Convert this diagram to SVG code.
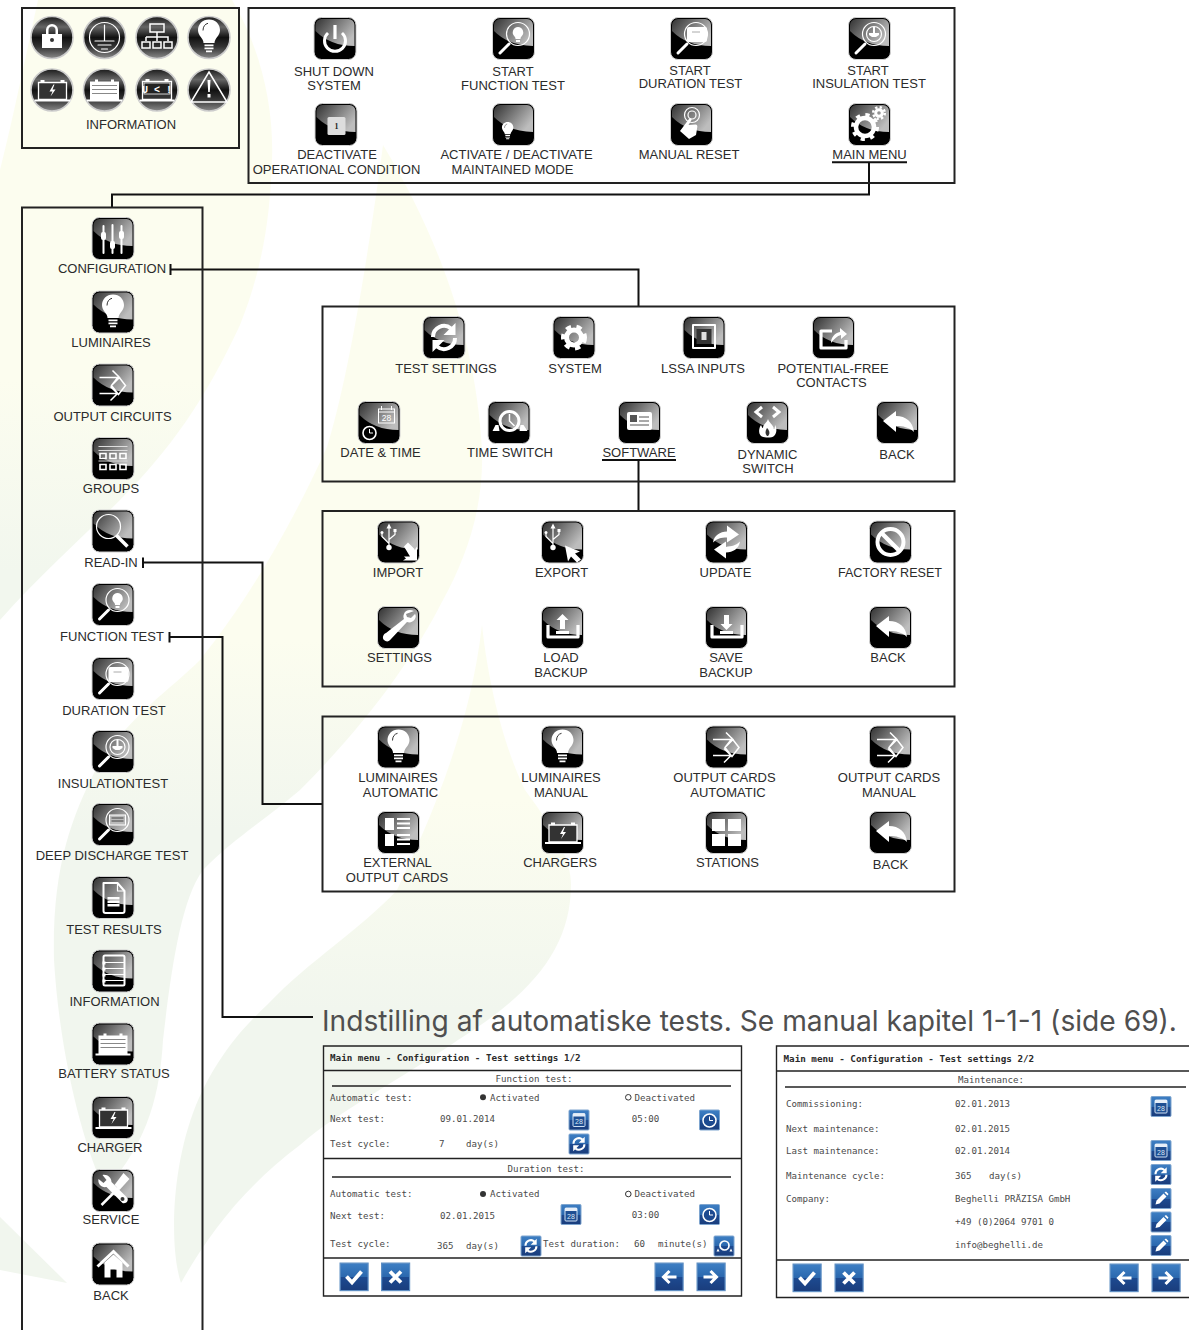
<svg xmlns="http://www.w3.org/2000/svg" width="1189" height="1330" viewBox="0 0 1189 1330">
<style>
.l{font:13px "Liberation Sans",Arial,sans-serif;text-anchor:middle;fill:#2b2b2b}
.m{font:9.15px "DejaVu Sans Mono","Liberation Mono",monospace;fill:#4a4a4a}
.c{text-anchor:middle}
.t{font:bold 9.25px "DejaVu Sans Mono","Liberation Mono",monospace;fill:#2a2a2a}
.p{fill:none;stroke:#222;stroke-width:2}
.s{fill:none;stroke:#222;stroke-width:1.4}
.cn{fill:none;stroke:#111;stroke-width:2}
.w{fill:#fff}
.ws{fill:none;stroke:#fff;stroke-width:2;stroke-linecap:round;stroke-linejoin:round}
.ws1{fill:none;stroke:#fff;stroke-width:1.2;stroke-linecap:round;stroke-linejoin:round}
.ws3{fill:none;stroke:#fff;stroke-width:3.2;stroke-linejoin:round}
</style>
<defs>
<linearGradient id="fa" gradientUnits="userSpaceOnUse" x1="0" y1="380" x2="0" y2="570"><stop offset="0" stop-color="#fcfdef"/><stop offset="1" stop-color="#f2f7ee"/></linearGradient>
<linearGradient id="fb" gradientUnits="userSpaceOnUse" x1="0" y1="640" x2="0" y2="830"><stop offset="0" stop-color="#fcfdef"/><stop offset="1" stop-color="#f1f6ee"/></linearGradient>
<linearGradient id="fd" gradientUnits="userSpaceOnUse" x1="0" y1="800" x2="0" y2="1010"><stop offset="0" stop-color="#fcfdef"/><stop offset="1" stop-color="#f1f6ee"/></linearGradient>
<linearGradient id="gl" x1="0" y1="0" x2="1" y2=".55"><stop offset="0" stop-color="#333"/><stop offset="1" stop-color="#bdbdbd"/></linearGradient>
<linearGradient id="rd" x1="0" y1="0" x2="0" y2="1"><stop offset="0" stop-color="#1a1a1a"/><stop offset=".25" stop-color="#666"/><stop offset=".5" stop-color="#111"/><stop offset=".72" stop-color="#333"/><stop offset="1" stop-color="#8a8a8a"/></linearGradient>
<linearGradient id="bl" x1="0" y1="0" x2="0" y2="1"><stop offset="0" stop-color="#3e7fc4"/><stop offset=".5" stop-color="#2b68ae"/><stop offset=".52" stop-color="#1d4a90"/><stop offset="1" stop-color="#1a3d7c"/></linearGradient>
<g id="btn"><rect x=".5" y=".5" width="42" height="42" rx="7.5" fill="#000" stroke="#d0d0d0"/><path d="M2 14Q17 29 41 29V8a6 6 0 0 0-6-6H8a6 6 0 0 0-6 6z" fill="url(#gl)"/></g>
<g id="bulbg"><path class="w" d="M21.5 4c-6.500 0-11 4.800-11 10.500 0 4.500 3 7 4.500 9.500 .7 1.200 1 2.400 1 3.500h11c0-1.100.3-2.300 1-3.500 1.500-2.500 4.500-5 4.500-9.500C32.500 8.800 28 4 21.500 4z"/><path d="M15.500 15c0-4 2-6.500 5-7.200" fill="none" stroke="#333" stroke-width="1"/><path class="w" d="M17 29h9v1.800h-9zM17 32h9v1.800h-9zM18.500 35h6v1.800h-6z"/></g>
<g id="magh"><path d="M8 36L17 27" fill="none" stroke="#fff" stroke-width="3" stroke-linecap="round"/><circle cx="26" cy="17" r="11.500" class="ws1"/></g>
<g id="i-power"><use href="#btn"/><path d="M14.500 16a10.500 10.500 0 1 0 14 0" fill="none" stroke="#fff" stroke-width="3"/><path d="M21.500 8v14" class="ws3"/></g>
<g id="i-magbulb"><use href="#btn"/><use href="#magh"/><path class="w" d="M26 10a5.500 5.500 0 0 0-3.500 9.500c.8.800 1 1.500 1 2.500h5c0-1 .2-1.700 1-2.500A5.500 5.500 0 0 0 26 10z"/><rect class="w" x="24" y="23" width="4" height="2"/></g>
<g id="i-magbat"><use href="#btn"/><use href="#magh"/><rect class="w" x="17" y="10" width="20" height="15" rx="2"/><path d="M22 15h8" stroke="#aaa" fill="none"/></g>
<g id="i-maggnd"><use href="#btn"/><use href="#magh"/><circle cx="26" cy="17" r="7.500" class="ws1"/><path class="w" d="M25 10h2v6h4v2l-3 2h-4l-3-2v-2h4z"/></g>
<g id="i-magdeep"><use href="#btn"/><use href="#magh"/><rect x="18" y="12" width="16" height="10" fill="#bbb" stroke="#fff"/><path d="M20 15h12M20 18h12" stroke="#444" fill="none"/></g>
<g id="i-mag"><use href="#btn"/><circle cx="17" cy="17" r="12" class="ws1"/><path d="M25 26L36 37" fill="none" stroke="#fff" stroke-width="3.500"/></g>
<g id="i-one"><use href="#btn"/><rect x="13" y="14" width="18" height="18" rx="1.500" fill="#ddd"/><text x="22" y="26" font-family="Liberation Serif,serif" font-size="8" font-weight="bold" text-anchor="middle" fill="#222">1</text></g>
<g id="i-bulbsm"><use href="#btn"/><use href="#bulbg" transform="translate(4.500,17) scale(.52)"/></g>
<g id="i-touch"><use href="#btn"/><circle cx="22" cy="12" r="7.500" class="ws1"/><circle cx="22" cy="12" r="4" class="ws1"/><path class="w" d="M10 28l9-12c1-1.500 3.200-.5 2.500 1l-3 5 7-.5c1.500 0 2 1 1.800 2.500L26 32l-7 4z"/></g>
<g id="i-gears"><use href="#btn"/><circle cx="17" cy="24" r="9" fill="none" stroke="#fff" stroke-width="4.500"/><circle cx="17" cy="24" r="12.300" fill="none" stroke="#fff" stroke-width="3.500" stroke-dasharray="4.200 5.460"/><circle cx="31" cy="10" r="3.300" fill="none" stroke="#fff" stroke-width="3"/><circle cx="31" cy="10" r="5.800" fill="none" stroke="#fff" stroke-width="2.500" stroke-dasharray="2.300 2.250"/></g>
<g id="i-sliders"><use href="#btn"/><path d="M12 9v27M21 8v28M30 9v27" class="ws"/><rect class="w" x="9.500" y="15" width="5" height="8" rx="2"/><rect class="w" x="18.500" y="24" width="5" height="8" rx="2"/><rect class="w" x="27.500" y="14" width="5" height="8" rx="2"/></g>
<g id="i-out"><use href="#btn"/><path d="M8 14H28M21 7l7 7-7 7M8 30H26M19 23l7 7-7 7M27 13l7 9-7 9-7-9z" fill="none" stroke="#fff" stroke-width="1.500"/></g>
<g id="i-groups"><use href="#btn"/><path d="M7 9.500h29M7 13.500h29M7 24h29" stroke="#ddd" fill="none"/><path d="M8.500 16.500h6v5h-6zM18.500 16.500h6v5h-6zM28.500 16.500h6v5h-6zM8.500 27.500h6v5h-6zM18.500 27.500h6v5h-6zM28.500 27.500h6v5h-6z" fill="none" stroke="#fff" stroke-width="1.600"/></g>
<g id="i-doc"><use href="#btn"/><path class="ws" d="M12 7h14l7 8v20a2 2 0 0 1-2 2H14a2 2 0 0 1-2-2z"/><path d="M26 7v8h7" class="ws1"/><path class="w" d="M16 21h12v2.500H16zM16 24.500h12V27H16zM16 28h12v2.500H16z"/></g>
<g id="i-list"><use href="#btn"/><rect x="12" y="6" width="21" height="30" rx="1.500" class="ws"/><path d="M13 13h19M13 19h19M13 25h19M13 31h19" class="ws1"/><path class="w" d="M11 12h3v3h-3zM11 18h3v3h-3zM11 24h3v3h-3zM11 30h3v3h-3z"/></g>
<g id="i-bat"><use href="#btn"/><path class="w" d="M7 13h5v-2h3v2h13v-2h3v2h5v18h3v2H4v-2h3z"/><path d="M9 17h25M9 21h25M9 25h25" stroke="#888" fill="none"/></g>
<g id="i-chg"><use href="#btn"/><path d="M8 14h28v17H8z" fill="#333" stroke="#fff" stroke-width="1.300"/><path class="w" d="M10 11.500h4V14h-4zM30 11.500h4V14h-4zM4 31h36v2H4zM23 16l-4 7h3l-2 5 5-7h-3l2-5z"/></g>
<g id="i-tools"><use href="#btn"/><path d="M10 36L27 19" stroke="#fff" stroke-width="2.500" fill="none"/><path class="w" d="M32 4l6 6-10 11-5-5z"/><path class="w" d="M11 6c5-1 9 3 9 7l16 16c1 3-1 6-5 5L15 18c-5 1-9-3-8-8l5 4 3-3z"/><circle cx="31" cy="30" r="2" fill="#333"/></g>
<g id="i-home"><use href="#btn"/><path d="M6 24L22 9l15 15" fill="none" stroke="#fff" stroke-width="3"/><path class="w" d="M13 20l9-8 9 8v15H25V27h-6v8h-6z"/></g>
<g id="refg"><path d="M10.500 21a11 11 0 0 1 18-8.500M32.500 22a11 11 0 0 1-18 8.500" fill="none" stroke="#fff" stroke-width="4"/><path class="w" d="M33 7v12H21zM10 36V24h12z"/></g>
<g id="i-ref"><use href="#btn"/><use href="#refg"/></g>
<g id="i-gear"><use href="#btn"/><circle cx="21.500" cy="21.500" r="7.500" fill="none" stroke="#fff" stroke-width="5"/><circle cx="21.500" cy="21.500" r="11" fill="none" stroke="#fff" stroke-width="4" stroke-dasharray="5.300 5.500"/></g>
<g id="i-lssa"><use href="#btn"/><rect x="10.500" y="9" width="22" height="23" class="ws" stroke-linecap="square"/><rect x="14" y="13" width="15" height="15" fill="#333"/><rect class="w" x="19" y="16" width="5" height="8" opacity=".85"/></g>
<g id="i-cont"><use href="#btn"/><path d="M20 15H9v17h25V24" class="ws3"/><path class="w" d="M19 27c0-6 4-10 9-11v-4l7 6-6 5v-4c-4 1-7 4-10 8z"/></g>
<g id="i-dt"><use href="#btn"/><rect x="21" y="8" width="16" height="14" fill="none" stroke="#fff"/><path d="M21 11h16M24 5v4M34 5v4" stroke="#fff" fill="none"/><text x="29" y="20" font-family="Liberation Sans,sans-serif" font-size="8.500" text-anchor="middle" fill="#fff">28</text><circle cx="12" cy="32" r="6.500" fill="#000" stroke="#fff" stroke-width="1.600"/><path d="M12 28v4h3.500" stroke="#fff" fill="none"/></g>
<g id="i-ts"><use href="#btn"/><circle cx="22" cy="20" r="9.500" fill="none" stroke="#fff" stroke-width="3"/><path d="M22 13v7l5 5" stroke="#fff" stroke-width="1.500" fill="none"/><path class="w" d="M5 30l3-6h3l1 6zM32 30l1-6h3l4 6z"/></g>
<g id="i-soft"><use href="#btn"/><rect class="w" x="9" y="11" width="25" height="18" rx="2"/><rect x="12" y="14" width="7" height="7" fill="#555"/><path d="M21 16h10M21 20h10M12 24h19" stroke="#555" fill="none"/></g>
<g id="i-dyn"><use href="#btn"/><path d="M16 6l-6 5 6 5M27 6l6 5-6 5" fill="none" stroke="#fff" stroke-width="3"/><path class="w" d="M22 18c1 4 5 5 6 10 1-1 1-3 1-4 2 3 2 8-1 11-2 2-10 2-13 0-3-3-2-8 0-11 1 2 1 3 2 3 0-4 4-5 5-9z"/><path d="M21 27c-2 3-2 6 0 8h1c2-2 2-5-1-8z" fill="#333"/></g>
<g id="i-back"><use href="#btn"/><path class="w" d="M7 20L20 10v5c10 0 17 6 18 16-5-5-11-6-18-6v6z"/></g>
<g id="usbg"><path d="M12 7v20M12 23L5 16v-3M12 19l6-5v-3" class="ws1" stroke-width="1.300"/><path class="w" d="M12 3l2.500 5h-5z"/><circle class="w" cx="12" cy="27" r="2.700"/><circle class="w" cx="5" cy="12" r="1.500"/><rect class="w" x="16.500" y="8.500" width="3" height="3"/></g>
<g id="i-imp"><use href="#btn"/><use href="#usbg"/><path class="w" d="M27 26l4-4 7 7 2-3v14H26l3-2-2-2h6z"/></g>
<g id="i-exp"><use href="#btn"/><use href="#usbg"/><path class="w" d="M24 25l15 6-5 2 6 6-4 3-6-6-3 5z"/></g>
<g id="i-upd"><use href="#btn"/><path class="w" d="M8 22c1-7 7-11 14-11V5l12 9-12 8v-5c-6 0-10 1-14 5zM35 21c-1 7-7 11-14 11v6L9 29l12-8v5c6 0 10-1 14-5z"/></g>
<g id="i-forb"><use href="#btn"/><circle cx="21.500" cy="21.500" r="13" fill="none" stroke="#fff" stroke-width="4"/><path d="M12 12l19 19" stroke="#fff" stroke-width="4.500"/></g>
<g id="i-wr"><use href="#btn"/><path class="w" d="M37 5c-4-2-9-1-10 3-1 2-.5 4 0 5L9 27c-3 1-4 5-2 7s5 2 7-1l16-17c3 1 6 0 8-3 1-2 1-4 0-5l-4 4-4-1-1-3z"/></g>
<g id="i-load"><use href="#btn"/><path d="M7 19v12h30V19" class="ws3" stroke-width="3.500"/><path class="w" d="M21.500 8l6 6h-3.500v9h-5v-9h-3.500zM15 25h13v3H15z"/></g>
<g id="i-save"><use href="#btn"/><path d="M7 19v12h30V19" class="ws3" stroke-width="3.500"/><path class="w" d="M21.500 24l6-6h-3.500V9h-5v9h-3.500zM15 25h13v3H15z"/></g>
<g id="i-ext"><use href="#btn"/><path class="w" d="M8 7h9v12H8zM8 23h9v12H8z"/><path d="M20 8h13M20 12.500h13M20 17h13M20 24h13M20 28.500h13M20 33h13" stroke="#fff" stroke-width="2" fill="none"/></g>
<g id="i-sta"><use href="#btn"/><path class="w" d="M7 8h13v12H7zM23 8h13v12H23zM7 23h13v12H7zM23 23h13v12H23z"/></g>
<circle id="rb" r="21" fill="url(#rd)" stroke="#ccc" stroke-width="1.600"/>
<g id="bb"><rect x=".5" y=".5" width="20" height="20" rx="1" fill="url(#bl)" stroke="#7ea5cf"/></g>
<g id="b-cal"><use href="#bb"/><rect x="4.500" y="4" width="12" height="13" rx="1" fill="#1f4f93" stroke="#cfe0f2"/><rect x="4.500" y="4" width="12" height="3" fill="#e6eef8"/><text x="10.500" y="14.800" font-family="Liberation Sans,sans-serif" font-size="7" text-anchor="middle" fill="#dbe7f5">28</text></g>
<g id="b-clk"><use href="#bb"/><circle cx="10.500" cy="11" r="6.500" fill="#1d4a90" stroke="#fff" stroke-width="1.500"/><path d="M10.500 7v4h3.500" stroke="#fff" fill="none"/></g>
<g id="b-ref"><use href="#bb"/><use href="#refg" transform="translate(-.3,-.3) scale(.5)"/></g>
<g id="b-tim"><use href="#bb"/><circle cx="11" cy="10" r="4.500" fill="none" stroke="#fff" stroke-width="1.700"/><path class="w" d="M3 16l1.500-3 1.500 3zM16 16l1.500-3 1.500 3z"/></g>
<g id="b-pen"><use href="#bb"/><path class="w" d="M5 16.500l1-4 7-7 3 3-7 7zM14 4.500l1.500-1 2.500 2.500-1 1.500z"/></g>
<g id="bbg"><rect x=".6" y=".6" width="28" height="27.500" fill="url(#bl)" stroke="#5f8fc4" stroke-width="1.200"/></g>
<g id="b-ok"><use href="#bbg"/><path d="M7 14l5.500 6L22 9" fill="none" stroke="#fff" stroke-width="3.800"/></g>
<g id="b-x"><use href="#bbg"/><path d="M9 9l11 11M20 9L9 20" fill="none" stroke="#fff" stroke-width="3.800"/></g>
<g id="b-l"><use href="#bbg"/><path d="M22 14.500H10M15 8.500l-6 6 6 6" fill="none" stroke="#fff" stroke-width="3"/></g>
<g id="b-r"><use href="#bbg"/><path d="M7 14.500h12M14 8.500l6 6-6 6" fill="none" stroke="#fff" stroke-width="3"/></g>
</defs>
<rect width="1189" height="1330" fill="#fff"/>
<g id="background">
<path fill="url(#fa)" d="M38 0H232C262 50 274 110 272 160C270 220 262 270 240 325C205 400 170 450 120 500C85 535 40 575 0 620V170C15 110 27 50 38 0Z"/>
<path fill="url(#fb)" d="M383 145C440 240 476 340 482 450C484 510 465 560 443 600C415 655 370 720 300 790C265 820 232 840 203 870C180 900 170 980 163 1040C160 1090 150 1140 105 1190C85 1150 60 1060 54 960C52 870 70 820 97 767C130 715 170 690 200 660C240 610 285 540 327 447C345 390 365 280 383 145Z"/>
<path fill="url(#fd)" d="M482 625C490 700 510 760 525 790C555 830 571 860 571 884C571 950 530 995 458 1040C400 1080 340 1110 300 1145C240 1190 205 1240 181 1283C170 1250 170 1170 196 1105C215 1060 240 1030 268 1004C310 960 360 930 397 890C430 820 470 730 482 625Z"/>
<path fill="#f1f6ee" d="M0 1217L67 1283L0 1270Z"/>
</g>
<g id="connectors">
<path class="cn" d="M869 162V194.500H112V207"/>
<path class="cn" d="M170.500 269.500H638.500V307M170.500 264V275"/>
<path class="cn" d="M143 562.500H262.500V804H323M143 557.500V568"/>
<path class="cn" d="M169.500 637H222.500V1017H313M169.500 632V642.500"/>
<path class="cn" d="M638.500 460V511"/>
<path class="cn" stroke-width="1.700" d="M832 162.300H907M602 460H676"/>
</g>
<g id="panels">
<rect class="p" x="22" y="8" width="217" height="140"/>
<rect class="p" x="248.500" y="8" width="706" height="175"/>
<path class="p" d="M22 1335V207.500H202.500V1335"/>
<rect class="p" x="322.500" y="306.500" width="632" height="175"/>
<rect class="p" x="322.500" y="511" width="632" height="175.500"/>
<rect class="p" x="322.500" y="716.500" width="632" height="175"/>
</g>
<g id="n-information-box">
<use href="#rb" x="52" y="37.500"/><use href="#rb" x="104.500" y="37.500"/><use href="#rb" x="157" y="37.500"/><use href="#rb" x="209" y="37.500"/>
<use href="#rb" x="52" y="90"/><use href="#rb" x="104.500" y="90"/><use href="#rb" x="157" y="90"/><use href="#rb" x="209" y="90"/>
<path class="w" d="M42 34h4v-4a6 6 0 0 1 12 0v4h4v14H42zM48.500 34h7v-4a3.500 3.500 0 0 0-7 0z"/><circle cx="52" cy="40" r="2" fill="#333"/>
<circle cx="104.500" cy="37.500" r="15" class="ws1" stroke-width="1.500"/><path d="M104.500 25v16M95 41h19M98 45h13M101.500 49h6" class="ws1" stroke-width="1.500"/>
<path d="M150 24h14v8h-14zM157 32v5M146 37h22v4M146 37v4M157 37v4M142 42h8v6h-8zM153 42h8v6h-8zM164 42h8v6h-8z" fill="none" stroke="#fff" stroke-width="1.500"/>
<use href="#bulbg" transform="translate(187.500,15.500)"/>
<g transform="translate(30.500,68.500)"><path d="M8 14h28v17H8z" fill="#333" stroke="#fff" stroke-width="1.300"/><path class="w" d="M10 11.500h4V14h-4zM30 11.500h4V14h-4zM4 31h36v2H4zM23 16l-4 7h3l-2 5 5-7h-3l2-5z"/></g>
<g transform="translate(83,68.500)"><path class="w" d="M7 13h5v-2h3v2h13v-2h3v2h5v18h3v2H4v-2h3z"/><path d="M9 17h25M9 21h25M9 25h25" stroke="#888" fill="none"/></g>
<g transform="translate(135.500,68.500)"><path d="M7 13h29v18H7z" fill="#333" stroke="#fff" stroke-width="1.300"/><path class="w" d="M10 10.500h4V13h-4zM29 10.500h4V13h-4zM4 31h35v2H4z"/><rect x="8.500" y="14.500" width="26" height="11" fill="#222" stroke="#fff" stroke-width=".8"/><text x="21.500" y="24" font-family="Liberation Mono,monospace" font-size="10" font-weight="bold" text-anchor="middle" fill="#fff">U &lt; !</text></g>
<path d="M209 72l18 30h-36z" fill="none" stroke="#fff" stroke-width="1.500"/><path class="w" d="M207.500 80h3l-.7 12h-1.600zM207.500 94h3v3.500h-3z"/>
<text class="l" x="131" y="128.500">INFORMATION</text>
</g>
<g id="n-shutdown"><use href="#i-power" x="313.500" y="17"/><text class="l" x="334" y="75.500">SHUT DOWN</text><text class="l" x="334" y="89.500">SYSTEM</text></g>
<g id="n-startfunc"><use href="#i-magbulb" x="492" y="17"/><text class="l" x="513" y="75.500">START</text><text class="l" x="513" y="89.500">FUNCTION TEST</text></g>
<g id="n-startdur"><use href="#i-magbat" x="670" y="17"/><text class="l" x="690" y="75">START</text><text class="l" x="690.500" y="88">DURATION TEST</text></g>
<g id="n-startins"><use href="#i-maggnd" x="848" y="17"/><text class="l" x="868" y="75">START</text><text class="l" x="869" y="88">INSULATION TEST</text></g>
<g id="n-deact"><use href="#i-one" x="314.500" y="103"/><text class="l" x="337" y="159">DEACTIVATE</text><text class="l" x="336.500" y="174">OPERATIONAL CONDITION</text></g>
<g id="n-maint"><use href="#i-bulbsm" x="492" y="103"/><text class="l" x="516.500" y="159">ACTIVATE / DEACTIVATE</text><text class="l" x="512.500" y="174">MAINTAINED MODE</text></g>
<g id="n-reset"><use href="#i-touch" x="670" y="103"/><text class="l" x="689" y="159">MANUAL RESET</text></g>
<g id="n-mainmenu"><use href="#i-gears" x="848" y="103"/><text class="l" x="869.500" y="159">MAIN MENU</text></g>
<g id="n-config"><use href="#i-sliders" x="91.500" y="217"/><text class="l" x="112" y="273">CONFIGURATION</text></g>
<g id="n-lum"><use href="#btn" x="91.500" y="290.500"/><use href="#bulbg" x="91.500" y="290.500"/><text class="l" x="111" y="347">LUMINAIRES</text></g>
<g id="n-out"><use href="#i-out" x="91.500" y="363.500"/><text class="l" x="112.500" y="421">OUTPUT CIRCUITS</text></g>
<g id="n-groups"><use href="#i-groups" x="91.500" y="437"/><text class="l" x="111" y="493">GROUPS</text></g>
<g id="n-readin"><use href="#i-mag" x="91.500" y="509.500"/><text class="l" x="111" y="567">READ-IN</text></g>
<g id="n-func"><use href="#i-magbulb" x="91.500" y="583"/><text class="l" x="112" y="641">FUNCTION TEST</text></g>
<g id="n-dur"><use href="#i-magbat" x="91.500" y="657"/><text class="l" x="114" y="715">DURATION TEST</text></g>
<g id="n-ins"><use href="#i-maggnd" x="91.500" y="730"/><text class="l" x="113" y="787.500">INSULATIONTEST</text></g>
<g id="n-deep"><use href="#i-magdeep" x="91.500" y="803"/><text class="l" x="112" y="860">DEEP DISCHARGE TEST</text></g>
<g id="n-results"><use href="#i-doc" x="91.500" y="876"/><text class="l" x="114" y="933.500">TEST RESULTS</text></g>
<g id="n-info"><use href="#i-list" x="91.500" y="949.500"/><text class="l" x="114.500" y="1005.500">INFORMATION</text></g>
<g id="n-bat"><use href="#i-bat" x="91.500" y="1022.500"/><text class="l" x="114" y="1077.500">BATTERY STATUS</text></g>
<g id="n-chg"><use href="#i-chg" x="91.500" y="1096"/><text class="l" x="110" y="1151.500">CHARGER</text></g>
<g id="n-svc"><use href="#i-tools" x="91.500" y="1169"/><text class="l" x="111" y="1223.500">SERVICE</text></g>
<g id="n-back0"><use href="#i-home" x="91.500" y="1242.500"/><text class="l" x="111" y="1300">BACK</text></g>
<g id="n-testset"><use href="#i-ref" x="422.500" y="316"/><text class="l" x="446" y="373">TEST SETTINGS</text></g>
<g id="n-system"><use href="#i-gear" x="552.500" y="316"/><text class="l" x="575" y="373">SYSTEM</text></g>
<g id="n-lssa"><use href="#i-lssa" x="682.500" y="316"/><text class="l" x="703" y="373">LSSA INPUTS</text></g>
<g id="n-pfc"><use href="#i-cont" x="812" y="316"/><text class="l" x="833" y="373">POTENTIAL-FREE</text><text class="l" x="831.500" y="387">CONTACTS</text></g>
<g id="n-date"><use href="#i-dt" x="357.500" y="401"/><text class="l" x="380.500" y="457">DATE &amp; TIME</text></g>
<g id="n-tsw"><use href="#i-ts" x="487.500" y="401"/><text class="l" x="510" y="457">TIME SWITCH</text></g>
<g id="n-soft"><use href="#i-soft" x="618" y="401"/><text class="l" x="639" y="457">SOFTWARE</text></g>
<g id="n-dyn"><use href="#i-dyn" x="746" y="401"/><text class="l" x="767.500" y="459">DYNAMIC</text><text class="l" x="768" y="472.500">SWITCH</text></g>
<g id="n-back1"><use href="#i-back" x="876" y="401"/><text class="l" x="897" y="459">BACK</text></g>
<g id="n-import"><use href="#i-imp" x="377" y="520.500"/><text class="l" x="398" y="577">IMPORT</text></g>
<g id="n-export"><use href="#i-exp" x="541" y="520.500"/><text class="l" x="561.500" y="577">EXPORT</text></g>
<g id="n-update"><use href="#i-upd" x="705" y="520.500"/><text class="l" x="725.500" y="577">UPDATE</text></g>
<g id="n-factory"><use href="#i-forb" x="869" y="520.500"/><text class="l" x="890" y="577" textLength="104" lengthAdjust="spacingAndGlyphs">FACTORY RESET</text></g>
<g id="n-settings"><use href="#i-wr" x="377" y="606"/><text class="l" x="399.500" y="662">SETTINGS</text></g>
<g id="n-load"><use href="#i-load" x="541" y="606"/><text class="l" x="561" y="662">LOAD</text><text class="l" x="561" y="677">BACKUP</text></g>
<g id="n-save"><use href="#i-save" x="705" y="606"/><text class="l" x="726" y="662">SAVE</text><text class="l" x="726" y="677">BACKUP</text></g>
<g id="n-back2"><use href="#i-back" x="869" y="606"/><text class="l" x="888" y="662">BACK</text></g>
<g id="n-luma"><use href="#btn" x="377" y="725.500"/><use href="#bulbg" x="377" y="725.500"/><text class="l" x="398" y="782">LUMINAIRES</text><text class="l" x="400.500" y="796.500">AUTOMATIC</text></g>
<g id="n-lumm"><use href="#btn" x="541" y="725.500"/><use href="#bulbg" x="541" y="725.500"/><text class="l" x="561" y="782">LUMINAIRES</text><text class="l" x="561" y="796.500">MANUAL</text></g>
<g id="n-outa"><use href="#i-out" x="705" y="725.500"/><text class="l" x="724.500" y="782">OUTPUT CARDS</text><text class="l" x="728" y="796.500">AUTOMATIC</text></g>
<g id="n-outm"><use href="#i-out" x="869" y="725.500"/><text class="l" x="889" y="782">OUTPUT CARDS</text><text class="l" x="889" y="796.500">MANUAL</text></g>
<g id="n-ext"><use href="#i-ext" x="377" y="811"/><text class="l" x="397.500" y="867">EXTERNAL</text><text class="l" x="397" y="882">OUTPUT CARDS</text></g>
<g id="n-chgs"><use href="#i-chg" x="541" y="811"/><text class="l" x="560" y="867">CHARGERS</text></g>
<g id="n-stat"><use href="#i-sta" x="705" y="811"/><text class="l" x="727.500" y="867">STATIONS</text></g>
<g id="n-back3"><use href="#i-back" x="869" y="811"/><text class="l" x="890.500" y="869">BACK</text></g>
<text id="heading" x="322" y="1031" font-family="Inter,'Open Sans',sans-serif" font-size="28.500" fill="#4f4f4f" textLength="855" lengthAdjust="spacingAndGlyphs">Indstilling af automatiske tests. Se manual kapitel 1-1-1 (side 69).</text>
<g id="screen1">
<path class="s" d="M323.500 1046H741.500V1296H323.500ZM323.500 1070.500H741.500M323.500 1158.500H741.500M323.500 1258H741.500"/>
<path class="s" d="M332 1086H731M332 1177H731"/>
<text class="t" x="330" y="1061">Main menu - Configuration - Test settings 1/2</text>
<text class="m c" x="534" y="1081.700">Function test:</text>
<text class="m" x="330" y="1100.500">Automatic test:</text>
<circle cx="483" cy="1097.300" r="3" fill="#333"/><text class="m" x="490" y="1101">Activated</text>
<circle cx="628.300" cy="1097.300" r="2.800" fill="none" stroke="#333"/><text class="m" x="634.500" y="1101">Deactivated</text>
<text class="m" x="330" y="1122">Next test:</text><text class="m" x="440" y="1122">09.01.2014</text><text class="m" x="631.700" y="1122">05:00</text>
<use href="#b-cal" x="568.500" y="1109.500"/><use href="#b-clk" x="699" y="1109.500"/>
<text class="m" x="330" y="1147">Test cycle:</text><text class="m" x="439" y="1147">7</text><text class="m" x="466" y="1147">day(s)</text>
<use href="#b-ref" x="568.500" y="1133.500"/>
<text class="m c" x="546" y="1171.500">Duration test:</text>
<text class="m" x="330" y="1196.500">Automatic test:</text>
<circle cx="483" cy="1194" r="3" fill="#333"/><text class="m" x="490" y="1197">Activated</text>
<circle cx="628.300" cy="1194" r="2.800" fill="none" stroke="#333"/><text class="m" x="634.500" y="1197">Deactivated</text>
<text class="m" x="330" y="1219">Next test:</text><text class="m" x="440" y="1219">02.01.2015</text><text class="m" x="631.700" y="1218">03:00</text>
<use href="#b-cal" x="560.500" y="1204"/><use href="#b-clk" x="699" y="1204"/>
<text class="m" x="330" y="1247">Test cycle:</text><text class="m" x="437" y="1249">365</text><text class="m" x="466" y="1249">day(s)</text>
<use href="#b-ref" x="520.500" y="1235.500"/>
<text class="m" x="543" y="1247">Test duration:</text><text class="m" x="634" y="1247">60</text><text class="m" x="658" y="1247">minute(s)</text>
<use href="#b-tim" x="713.500" y="1235.500"/>
<use href="#b-ok" x="339.500" y="1262.500"/><use href="#b-x" x="381" y="1262.500"/><use href="#b-l" x="654.500" y="1262.500"/><use href="#b-r" x="696.500" y="1262.500"/>
</g>
<g id="screen2">
<path class="s" d="M1192 1046H776.500V1297.500H1192M776.500 1071H1192M776.500 1260H1192"/>
<path class="s" d="M785 1087H1186"/>
<text class="t" x="783.500" y="1061.500">Main menu - Configuration - Test settings 2/2</text>
<text class="m c" x="991" y="1082.700">Maintenance:</text>
<text class="m" x="786" y="1107">Commissioning:</text><text class="m" x="955" y="1107">02.01.2013</text>
<text class="m" x="786" y="1132">Next maintenance:</text><text class="m" x="955" y="1132">02.01.2015</text>
<text class="m" x="786" y="1154">Last maintenance:</text><text class="m" x="955" y="1154">02.01.2014</text>
<text class="m" x="786" y="1178.700">Maintenance cycle:</text><text class="m" x="955" y="1178.700">365</text><text class="m" x="989" y="1178.700">day(s)</text>
<text class="m" x="786" y="1202">Company:</text><text class="m" x="955" y="1202">Beghelli PRÄZISA GmbH</text>
<text class="m" x="955" y="1225">+49 (0)2064 9701 0</text>
<text class="m" x="955" y="1248">info@beghelli.de</text>
<use href="#b-cal" x="1150.500" y="1096"/><use href="#b-cal" x="1150.500" y="1140"/><use href="#b-ref" x="1150.500" y="1164"/><use href="#b-pen" x="1150.500" y="1188"/><use href="#b-pen" x="1150.500" y="1211.500"/><use href="#b-pen" x="1150.500" y="1235"/>
<use href="#b-ok" x="792.500" y="1263.500"/><use href="#b-x" x="834.500" y="1263.500"/><use href="#b-l" x="1109.500" y="1263.500"/><use href="#b-r" x="1151.500" y="1263.500"/>
</g>
</svg>
